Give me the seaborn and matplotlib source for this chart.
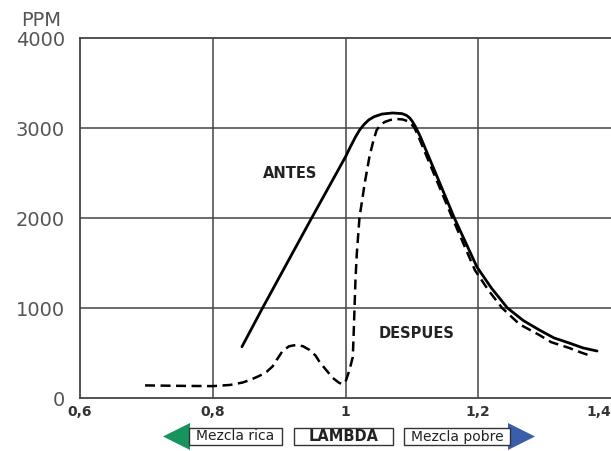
import matplotlib
matplotlib.use("Agg")
import matplotlib.pyplot as plt
import seaborn as sns
import pandas as pd
from matplotlib.patches import Polygon, Rectangle

# ANTES (before) curve: lambda vs PPM
antes_lambda = [0.844, 0.875, 0.949, 1.000, 1.008, 1.015, 1.021, 1.028, 1.035,
                1.043, 1.055, 1.071, 1.085, 1.092, 1.097, 1.101, 1.105, 1.109,
                1.113, 1.164, 1.198, 1.220, 1.244, 1.268, 1.292, 1.314, 1.337,
                1.358, 1.379]
antes_ppm = [570, 1000, 2000, 2680, 2800, 2900, 2975, 3040, 3090,
             3125, 3155, 3167, 3160, 3140, 3110, 3070, 3020, 2960,
             2900, 2000, 1456, 1220, 1000, 860, 756, 668, 611,
             556, 522]

# DESPUES (after) curve
despues_lambda = [0.698, 0.750, 0.800, 0.826, 0.845, 0.856, 0.870, 0.881, 0.890,
                  0.896, 0.905, 0.915, 0.926, 0.936, 0.946, 0.955, 0.961, 0.971,
                  0.981, 0.990, 0.995, 1.000, 1.006, 1.011, 1.0125, 1.014, 1.015,
                  1.017, 1.021, 1.029, 1.036, 1.042, 1.047, 1.053, 1.059, 1.068,
                  1.077, 1.086, 1.093, 1.099, 1.104, 1.109, 1.161, 1.195, 1.216,
                  1.236, 1.262, 1.292, 1.310, 1.337, 1.355, 1.370]
despues_ppm = [140, 135, 132, 145, 172, 200, 245, 290, 350,
               420, 520, 575, 590, 575, 533, 470, 400, 310,
               222, 170, 156, 180, 311, 456, 756, 1089, 1311,
               1600, 2000, 2389, 2678, 2860, 2978, 3035, 3067, 3090,
               3100, 3095, 3078, 3045, 3000, 2920, 2000, 1420, 1190,
               1000, 820, 700, 620, 556, 505, 467]

x_ticks = [0.6, 0.8, 1.0, 1.2, 1.4]
x_tick_labels = ["0,6", "0,8", "1", "1,2", "1,4"]
y_ticks = [0, 1000, 2000, 3000, 4000]
y_tick_labels = ["0", "1000", "2000", "3000", "4000"]

df_antes = pd.DataFrame({"lambda": antes_lambda, "ppm": antes_ppm})
df_despues = pd.DataFrame({"lambda": despues_lambda, "ppm": despues_ppm})

sns.set_style("white")
plt.rcParams["font.family"] = ["DejaVu Sans"]

W, H = 611, 451
fig = plt.figure(figsize=(W / 100, H / 100), dpi=100)


def fx(px):
    return px / W


def fy(py):
    return 1 - py / H


ax = fig.add_axes([fx(80), fy(398), 531 / W, (398 - 38) / H])

sns.lineplot(data=df_antes, x="lambda", y="ppm", ax=ax, color="black",
             linewidth=2.0, sort=False, estimator=None)
sns.lineplot(data=df_despues, x="lambda", y="ppm", ax=ax, color="black",
             linewidth=1.8, sort=False, estimator=None,
             linestyle=(0, (4, 2.2)))

ax.set_xlim(0.6, 1.4)
ax.set_ylim(0, 4000)
ax.set_xticks(x_ticks)
ax.set_xticklabels(x_tick_labels, fontsize=10, fontweight="bold", color="#333333")
ax.set_yticks(y_ticks)
ax.set_yticklabels(y_tick_labels, fontsize=14, color="#555555")
ax.get_xticklabels()[-1].set_ha("right")
ax.tick_params(axis="x", length=3, width=1, pad=2, color="#444444")
ax.tick_params(axis="y", length=4, width=1, pad=7, color="#444444")
ax.set_xlabel("")
ax.set_ylabel("")

for v in x_ticks[1:-1]:
    ax.axvline(v, color="#444444", linewidth=1.1, zorder=0)
for v in y_ticks[1:-1]:
    ax.axhline(v, color="#444444", linewidth=1.1, zorder=0)

for side in ["left", "top", "bottom"]:
    ax.spines[side].set_color("#444444")
    ax.spines[side].set_linewidth(1.3)
ax.spines["right"].set_visible(False)

ax.text(0.916, 2500, "ANTES", fontsize=10.5, fontweight="bold", color="#222222",
        ha="center", va="center")
ax.text(1.107, 722, "DESPUES", fontsize=10.5, fontweight="bold", color="#222222",
        ha="center", va="center")

fig.text(fx(41), fy(20), "PPM", fontsize=14, color="#555555", ha="center", va="center")

# lambda legend strip under the axis
green = "#17935e"
blue = "#3b5ea8"
fig.patches.append(Polygon([[fx(163), fy(436.5)], [fx(190), fy(423)], [fx(190), fy(450)]],
                           closed=True, transform=fig.transFigure, facecolor=green,
                           edgecolor="none"))
fig.patches.append(Polygon([[fx(535), fy(436.5)], [fx(508), fy(423)], [fx(508), fy(450)]],
                           closed=True, transform=fig.transFigure, facecolor=blue,
                           edgecolor="none"))
boxes = [(189, 282, "Mezcla rica", "normal", 10),
         (294, 393, "LAMBDA", "bold", 10.5),
         (404, 510, "Mezcla pobre", "normal", 10)]
for x0, x1, label, weight, size in boxes:
    fig.patches.append(Rectangle((fx(x0), fy(445)), (x1 - x0) / W, 17 / H,
                                 transform=fig.transFigure, facecolor="white",
                                 edgecolor="#333333", linewidth=1.0))
    fig.text(fx((x0 + x1) / 2), fy(436.5), label, fontsize=size, fontweight=weight,
             color="#222222", ha="center", va="center")

fig.savefig("out.png", dpi=100)
